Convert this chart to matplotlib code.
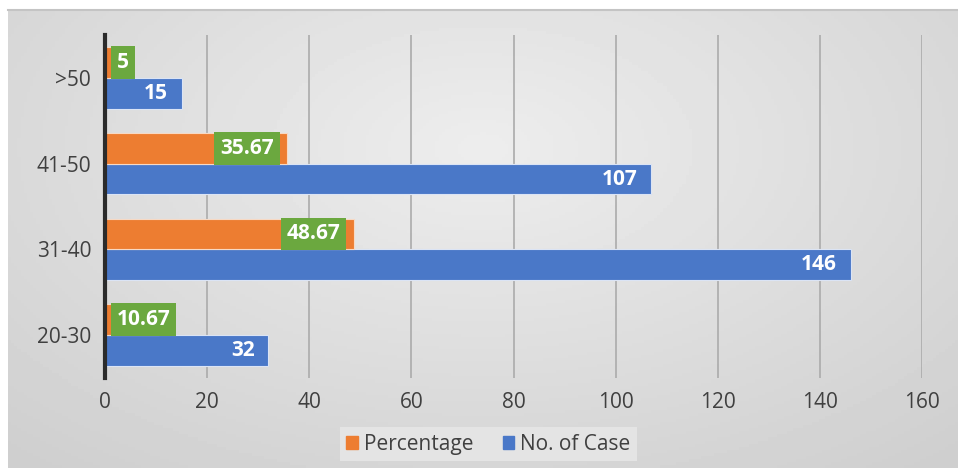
import matplotlib.pyplot as plt
import numpy as np

# data
groups = ["20-30", "31-40", "41-50", ">50"]
cases = [32, 146, 107, 15]
percent = [10.67, 48.67, 35.67, 5]
percent_labels = ["10.67", "48.67", "35.67", "5"]

plt.rcParams['font.family'] = ['Open Sans', 'DejaVu Sans']

orange = "#ED7D31"
blue = "#4A78C8"
green = "#6BA83F"

fig = plt.figure(figsize=(9.58, 4.68), dpi=100)

# gray gradient panel behind the chart
bg = fig.add_axes([8 / 958, 0, 1 - 8 / 958, 1 - 10 / 468], zorder=0)
gx, gy = np.meshgrid(np.linspace(0, 1, 300), np.linspace(0, 1, 150))
r = np.sqrt(((gx - 0.5) / 0.75) ** 2 + ((gy - 0.3) / 0.9) ** 2)
bg.imshow(0.93 - 0.12 * np.clip(r, 0, 1), cmap="gray", vmin=0, vmax=1,
          aspect="auto", extent=[0, 1, 0, 1])
bg.axis("off")
fig.add_artist(plt.Line2D([8 / 958, 1], [1 - 10 / 468] * 2, color="#c4c4c4", lw=1.5))

ax = fig.add_axes([105 / 958, 1 - 378 / 468, 817 / 958, 343 / 468], zorder=1)
ax.patch.set_alpha(0)

y = np.arange(len(groups))
h = 0.36
ax.barh(y - h / 2, cases, height=h, color=blue, edgecolor="#dbe4f5", lw=0.8, zorder=3)
ax.barh(y + h / 2, percent, height=h, color=orange, edgecolor="#f7d9c4", lw=0.8, zorder=3)

for yi, v in zip(y, cases):
    ax.annotate(str(v), (v, yi - h / 2), xytext=(-10, 0), textcoords="offset points",
                ha="right", va="center", color="white", fontsize=15,
                fontweight="bold", zorder=5)

for yi, v, lab in zip(y, percent, percent_labels):
    if v < 20:
        xy, dx, ha = (0, yi + h / 2), 8.5, "left"
    else:
        xy, dx, ha = (v, yi + h / 2), -9.5, "right"
    ax.annotate(lab, xy, xytext=(dx, 0), textcoords="offset points",
                ha=ha, va="center", color="white", fontsize=15,
                fontweight="bold", zorder=5,
                bbox=dict(boxstyle="square,pad=0.28", fc=green, ec="none"))

ax.set_xlim(0, 160)
ax.set_ylim(-0.5, 3.5)
ax.set_xticks(np.arange(0, 161, 20))
ax.set_yticks(y)
ax.set_yticklabels(groups)
ax.grid(axis="x", color="#ababab", lw=1.2, zorder=1)
ax.tick_params(length=0, labelsize=15, colors="#404040", pad=10)
for s in ["top", "right", "bottom"]:
    ax.spines[s].set_visible(False)
ax.spines["left"].set_color("#2b2b2b")
ax.spines["left"].set_linewidth(3)
ax.spines["left"].set_zorder(4)

handles = [plt.Rectangle((0, 0), 1, 1, color=orange),
           plt.Rectangle((0, 0), 1, 1, color=blue)]
leg = fig.legend(handles, ["Percentage", "No. of Case"], loc="center",
                 bbox_to_anchor=(0.51, 0.051), ncol=2, frameon=True,
                 fontsize=15, handlelength=0.55, handleheight=0.55,
                 handletextpad=0.3, columnspacing=1.4, borderpad=0.3,
                 borderaxespad=0, fancybox=False)
leg.get_frame().set_facecolor("#e8e8e8")
leg.get_frame().set_edgecolor("none")
for t in leg.get_texts():
    t.set_color("#404040")

fig.savefig("out.png", dpi=100)
